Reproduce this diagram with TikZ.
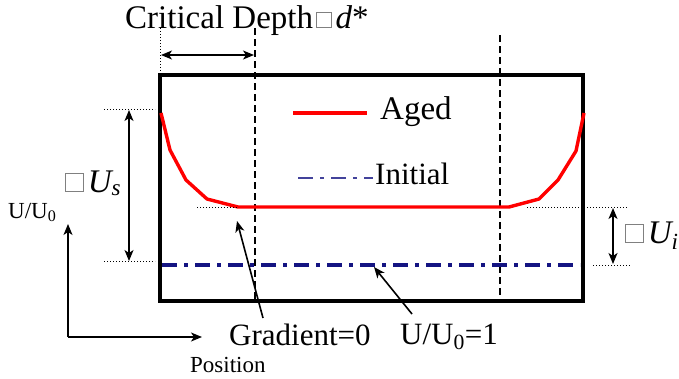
\documentclass[tikz,border=0pt]{standalone}
\usepackage{fontspec}
\setmainfont{Liberation Serif}
\usetikzlibrary{arrows.meta}
\newcommand\sqbox[1]{\kern3pt\raisebox{1pt}{\color{gray}\fboxsep=0pt\fboxrule=0.8pt\fbox{\rule{0pt}{#1}\hspace{#1}}}\kern4pt}
\begin{document}
\begin{tikzpicture}[x=1pt,y=-1pt,
  lbl/.style={inner sep=0pt,font=\fontsize{31}{34}\selectfont},
  big/.style={inner sep=0pt,font=\fontsize{33}{36}\selectfont},
  small/.style={inner sep=0pt,font=\fontsize{23}{26}\selectfont},
  arr/.style={line width=1.6pt,-{Stealth[length=11pt,width=9pt,inset=3pt]}},
  darr/.style={line width=1.6pt,{Stealth[length=11pt,width=9pt,inset=3pt]}-{Stealth[length=11pt,width=9pt,inset=3pt]}},
  dotline/.style={line width=1pt,dash pattern=on 1pt off 2pt},
  dashline/.style={line width=1.5pt,dash pattern=on 7pt off 4pt},
  aged/.style={red,line width=3.4pt},
  initial/.style={navy,line width=3.4pt,dash pattern=on 15pt off 7pt on 4pt off 7pt}]
\definecolor{navy}{RGB}{20,20,130}
\useasboundingbox (0,0) rectangle (679,378);
% box
\draw[line width=3.2pt] (160,75) rectangle (583,301);
% critical depth lines
\draw[dashline] (255,28) -- (255,301);
\draw[dashline] (500,35) -- (500,301);
\draw[dotline] (160,28) -- (160,75);
\coordinate (cdL) at (161,55);
\coordinate (cdR) at (254,55);
\draw[darr] (cdL) -- (cdR);
\node[big,anchor=base west] (crit) at (125,28) {Critical Depth\sqbox{14pt}\textit{d}*};
% initial line
\draw[initial] (162,265) -- (580,265);
% aged curve
\draw[aged,line join=round] (161,113) -- (170,150) -- (186,180) -- (207,199) -- (238,207) -- (509,207) -- (539,199) -- (558,180) -- (576,151) -- (584,113);
% dotted guides
\draw[dotline] (104,109) -- (155,109);
\draw[dotline] (104,261) -- (155,261);
\draw[dotline] (197,207) -- (237,207);
\draw[dotline] (527,207) -- (628,207);
\draw[dotline] (593,265) -- (630,265);
% delta arrows
\coordinate (usT) at (129,110);
\coordinate (usB) at (129,261);
\draw[darr] (usT) -- (usB);
\coordinate (uiT) at (613,208);
\coordinate (uiB) at (613,264);
\draw[darr] (uiT) -- (uiB);
\node[big,anchor=base west] (us) at (62,192) {\sqbox{17pt}\textit{U\textsubscript{s}}};
\node[big,anchor=base west] (ui) at (622,243) {\sqbox{17pt}\textit{U\textsubscript{i}}};
% legend
\coordinate (agL) at (293,113);
\coordinate (agR) at (367,113);
\draw[aged] (agL) -- (agR);
\node[big,anchor=base west] (agtxt) at (380,119) {Aged};
\coordinate (inL) at (298,178);
\coordinate (inR) at (373,178);
\draw[initial,line width=2.8pt,navy!80] (inL) -- (inR);
\node[lbl,anchor=base west] (intxt) at (375,184) {Initial};
% axes
\coordinate (org) at (68,337);
\coordinate (yax) at (68,224);
\coordinate (xax) at (202,337);
\draw[arr] (org) -- (yax);
\draw[arr] (org) -- (xax);
\node[small,anchor=base west] (uu) at (8,218) {U/U\textsubscript{0}};
\node[small,anchor=base west] (pos) at (190,372) {Position};
% annotations
\node[lbl,anchor=base west] (grad) at (229,345) {Gradient=0};
\coordinate (gtip) at (237,221);
\draw[arr] (263,318) -- (gtip);
\node[lbl,anchor=base west] (uone) at (400,344) {U/U\textsubscript{0}=1};
\coordinate (utip) at (374,267);
\draw[arr] (412,314) -- (utip);
\end{tikzpicture}
\end{document}
